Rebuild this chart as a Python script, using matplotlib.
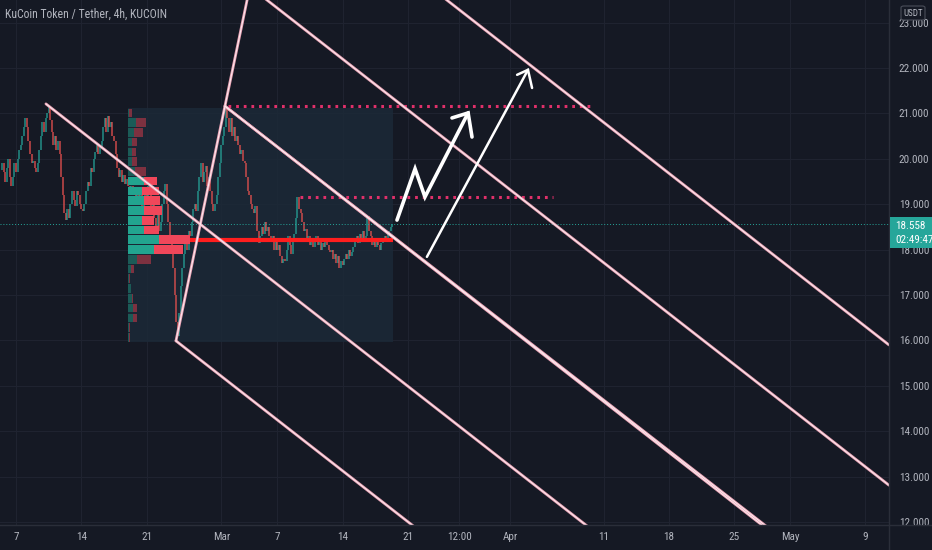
import matplotlib
matplotlib.use("Agg")
import matplotlib.pyplot as plt
import matplotlib.dates as mdates
from matplotlib import font_manager
from matplotlib.patches import Rectangle, FancyBboxPatch
from matplotlib.lines import Line2D
import pandas as pd
import numpy as np

# pick a condensed face if one is installed
_fonts = font_manager.fontManager.ttflist
_cond = None
for want in ['Liberation Sans Narrow', 'Roboto Condensed', 'Open Sans Condensed',
             'Noto Sans Condensed', 'DejaVu Sans', 'Noto Sans', 'Open Sans', 'Roboto']:
    for f in _fonts:
        if f.name == want and str(f.stretch) in ('condensed', 'semi-condensed', '75', '87') \
                and f.style == 'normal':
            _cond = (f.name, str(f.stretch))
            break
    if _cond:
        break
if _cond is None:
    for f in _fonts:
        if f.name == 'Liberation Sans Narrow':
            _cond = (f.name, 'normal')
            break
if _cond:
    plt.rcParams['font.family'] = [_cond[0], 'DejaVu Sans']
    plt.rcParams['font.stretch'] = _cond[1]
    FS_AX, FS_TITLE, FS_SMALL = 8.0, 8.5, 6.5
else:
    plt.rcParams['font.family'] = ['Roboto', 'DejaVu Sans']
    FS_AX, FS_TITLE, FS_SMALL = 7.0, 7.5, 6.0

# ---------------- data ----------------
title = "KuCoin Token / Tether, 4h, KUCOIN"
last_candle = "2022-03-19 08:00"
first_open = 19.75
closes = [
    19.9, 19.7, 19.5, 19.8, 20.0, 19.6, 19.4, 19.6, 19.9, 19.7,
    20.0, 20.2, 20.3, 20.5,
    20.7, 20.9, 20.7, 20.4,
    20.1, 19.9, 19.95,
    19.8, 19.7, 19.9,
    20.2, 20.5, 20.8, 20.6, 20.9, 21.0,
    21.15, 20.85,
    20.6, 20.3, 20.5, 20.2, 20.4, 20.1,
    19.6, 19.2,
    18.8, 18.65, 18.9,
    18.7, 19.0, 19.3, 19.1, 18.95, 19.3, 19.2, 19.0, 18.9,
    18.85, 19.0,
    19.3, 19.5, 19.4, 19.8, 19.7, 20.0, 20.15,
    20.3, 20.1, 20.25, 20.4,
    20.7, 20.9, 20.6, 20.95, 20.7, 20.8, 20.5, 20.4,
    20.1, 19.8, 19.6, 19.75,
    19.5, 19.65, 19.45, 19.55, 19.4,
    19.3, 19.4, 19.2, 19.35, 19.1, 19.25, 19.0, 19.2, 18.9, 19.1, 19.3, 19.15,
    19.4, 19.2, 18.9, 19.1, 18.7, 18.5, 18.8, 18.4, 18.6, 19.0, 19.3, 19.45,
    19.0, 18.6, 18.2, 17.9, 17.6,
    17.0, 16.4, 16.1,
    16.6, 17.2, 17.6, 17.9, 18.2, 18.0, 18.4, 18.3,
    18.6, 18.9, 19.0, 18.85,
    19.3, 19.6, 19.9, 19.5, 19.7, 19.85, 19.4, 19.6, 19.3,
    19.0, 18.85, 19.0,
    19.2, 19.6, 19.9, 20.3, 20.5, 20.7,
    21.1, 20.9,
    20.6, 20.9, 20.5, 20.7, 20.4, 20.5,
    20.3, 20.1, 20.2, 19.95, 19.9,
    19.6, 19.3, 19.2,
    19.0, 18.9, 18.8, 18.95,
    18.4, 18.15, 18.3,
    18.5, 18.35, 18.6, 18.4, 18.5, 18.3,
    18.2, 18.3, 18.0, 18.2, 18.0, 18.1,
    17.85, 17.7, 17.8, 17.75,
    18.0, 18.3, 18.1, 17.9, 18.2, 18.35,
    18.7, 19.15, 18.9, 18.8,
    18.6, 18.4, 18.45,
    18.2, 18.3, 18.1, 18.25, 18.05, 18.2, 18.3, 18.1, 18.2, 18.0, 18.15, 18.05, 18.2, 18.1, 18.0,
    17.95, 18.0, 17.8, 17.9, 17.7, 17.85, 17.6, 17.75, 17.65, 17.8,
    17.9, 17.8, 18.0, 17.85, 17.95, 18.05,
    18.2, 18.3, 18.15, 18.35, 18.25, 18.4, 18.2, 18.3, 18.75, 18.4,
    18.3, 18.1, 18.2, 18.05, 18.25, 18.1, 18.0, 18.15, 18.2,
    18.3, 18.2, 18.35, 18.4, 18.5, 18.558,
]
last_price = 18.558
countdown = "02:49:47"

# volume profile (rows bottom -> top)
vp_start = "2022-02-19 00:00"
vp_end = "2022-03-19 10:00"
vp_low, vp_high = 15.96, 21.12
up_vol = [1.5, 1.5, 5, 5, 4, 3, 1.5, 3, 9, 26, 31, 16, 14, 16, 16, 14, 16, 7, 4, 4, 4, 6, 8, 1]
down_vol = [0.5, 0.5, 4, 4, 1.5, 0.5, 0.5, 3, 14, 29, 31, 15, 12, 18, 16, 17, 13, 11, 5, 4, 5, 9, 10, 3]
va_rows = (9, 16)
poc_row = 10
profile_width_frac = 0.235

# channel lines
chan_slope = -0.1603          # price per day
chan_anchor = [("2022-02-24 03:30", 15.99), ("2022-02-10 05:00", 21.21), ("2022-03-01 09:30", 21.16)]
chan_extra = [("2022-05-11 13:40", 12.81), ("2022-05-11 13:40", 15.90)]
chan_b2_slope = -0.1595
handle = [("2022-02-24 03:30", 15.99), ("2022-03-01 09:30", 21.16)]

dotted_levels = [("2022-03-01 17:00", "2022-04-09 18:00", 21.16),
                 ("2022-03-09 10:30", "2022-04-05 13:30", 19.16)]

zigzag = [("2022-03-19 20:00", 18.65), ("2022-03-21 18:30", 19.78),
          ("2022-03-22 20:00", 19.16), ("2022-03-27 11:00", 21.01)]
zigzag_head = [("2022-03-25 17:30", 20.90), ("2022-03-27 11:00", 21.01), ("2022-03-27 21:00", 20.48)]
arrow2 = [("2022-03-23 01:00", 17.84), ("2022-04-02 21:00", 21.96)]
arrow2_head = [("2022-04-01 17:00", 21.85), ("2022-04-02 21:00", 21.96), ("2022-04-03 07:30", 21.56)]

x_ticks = ["2022-02-07", "2022-02-14", "2022-02-21", "2022-03-01", "2022-03-07", "2022-03-14",
           "2022-03-21", "2022-03-26 12:00", "2022-04-01", "2022-04-11", "2022-04-18",
           "2022-04-25", "2022-05-01", "2022-05-09"]
x_labels = ["7", "14", "21", "Mar", "7", "14", "21", "12:00", "Apr", "11", "18", "25", "May", "9"]
y_ticks = list(range(12, 24))

x_range = ("2022-02-05 06:50", "2022-05-11 13:40")
y_range = (11.934, 23.498)

# ---------------- style ----------------
BG = '#151924'
GRID = '#1f2330'
TXT = '#b2b5be'
UP, DN = '#26a69a', '#ef5350'


def T(s):
    return mdates.date2num(pd.Timestamp(s))


W, H = 932, 550
fig = plt.figure(figsize=(W / 100, H / 100), dpi=100)
fig.patch.set_facecolor(BG)
ax = fig.add_axes([0, 25 / H, 889 / W, 525 / H])
ax.set_facecolor(BG)
x0, x1 = T(x_range[0]), T(x_range[1])
ax.set_xlim(x0, x1)
ax.set_ylim(*y_range)

for s in ['top', 'left', 'bottom']:
    ax.spines[s].set_visible(False)
ax.spines['right'].set_color('#2a2e39')

ax.set_xticks([T(t) for t in x_ticks])
ax.set_xticklabels(x_labels)
ax.yaxis.tick_right()
ax.set_yticks(y_ticks)
ax.set_yticklabels([f"{v:.3f}" for v in y_ticks])
ax.tick_params(axis='both', length=0, colors=TXT, labelsize=FS_AX)
ax.tick_params(axis='x', pad=5)
ax.tick_params(axis='y', pad=7)
ax.grid(True, color=GRID, lw=0.8)
ax.set_axisbelow(True)

# volume profile background box
vx0, vx1 = T(vp_start), T(vp_end)
ax.add_patch(Rectangle((vx0, vp_low), vx1 - vx0, vp_high - vp_low,
                       facecolor='#1c2938', edgecolor='none', alpha=0.85, zorder=1))

# candles
times = pd.date_range(end=last_candle, periods=len(closes), freq='4h')
tnum = mdates.date2num(times)
opens = [first_open] + closes[:-1]
lo = np.minimum(opens, closes)
hi = np.maximum(opens, closes)
cols = [UP if c >= o else DN for o, c in zip(opens, closes)]
ax.vlines(tnum, lo, hi, colors=cols, lw=1.15, alpha=0.8, zorder=2)

# volume profile bars
nrows = len(up_vol)
row_h = (vp_high - vp_low) / nrows
maxv = max(u + d for u, d in zip(up_vol, down_vol))
full_w = (vx1 - vx0) * profile_width_frac
for i, (u, d) in enumerate(zip(up_vol, down_vol)):
    inside = va_rows[0] <= i <= va_rows[1]
    gc = '#22a48f' if inside else '#1b5b57'
    rc = '#f0475a' if inside else '#7d3140'
    yb = vp_low + i * row_h + row_h * 0.06
    hh = row_h * 0.88
    wu = full_w * u / maxv
    wd = full_w * d / maxv
    ax.add_patch(Rectangle((vx0, yb), wu, hh, facecolor=gc, edgecolor='none', zorder=4))
    ax.add_patch(Rectangle((vx0 + wu, yb), wd, hh, facecolor=rc, edgecolor='none', zorder=4))

# POC line
poc_y = vp_low + (poc_row + 0.5) * row_h
poc_x0 = vx0 + full_w * (up_vol[poc_row] + down_vol[poc_row]) / maxv
ax.plot([poc_x0, vx1], [poc_y, poc_y], color='#ff1e1e', lw=3.0, zorder=5, solid_capstyle='butt')


# channel lines
def pline(xs, ys):
    ax.plot(xs, ys, color='#e9a2b4', lw=2.0, zorder=6, solid_capstyle='round')
    ax.plot(xs, ys, color='#fdecf1', lw=0.7, zorder=6.1, solid_capstyle='round')


for d, p in chan_anchor:
    xa = T(d)
    pline([xa, x1], [p, p + chan_slope * (x1 - xa)])
d, p = chan_anchor[2]
xa = T(d)
pline([xa, x1], [p, p + chan_b2_slope * (x1 - xa)])
for d, p in chan_extra:
    xa = T(d)
    pline([x0, xa], [p + chan_slope * (x0 - xa), p])

(hd0, hp0), (hd1, hp1) = handle
hx0, hx1 = T(hd0), T(hd1)
hs = (hp1 - hp0) / (hx1 - hx0)
xe = hx0 + (y_range[1] + 0.5 - hp0) / hs
pline([hx0, xe], [hp0, y_range[1] + 0.5])

# dotted levels
for a, b, lvl in dotted_levels:
    ax.plot([T(a), T(b)], [lvl, lvl], color='#e0306a', lw=2.2, ls=(0, (0.9, 1.6)), zorder=5)

# current price line
ax.axhline(last_price, color=UP, lw=0.7, ls=(0, (1, 2)), zorder=3)


# arrows
def wline(pts, lw):
    ax.plot([T(d) for d, _ in pts], [p for _, p in pts], color='white', lw=lw, zorder=7,
            solid_capstyle='round', solid_joinstyle='miter')


wline(zigzag, 2.6)
wline(zigzag_head, 2.6)
wline(arrow2, 1.8)
wline(arrow2_head, 1.8)

# title
fig.text(5 / W, 1 - 14 / H, title, color=TXT, fontsize=FS_TITLE, va='center', ha='left')

# bottom separator & clip cover for axis labels below plot
fig.add_artist(Rectangle((889 / W, 0), 1, 25 / H, transform=fig.transFigure,
                         facecolor=BG, edgecolor='none', zorder=5))
fig.add_artist(Line2D([0, 1], [25 / H, 25 / H], transform=fig.transFigure,
                      color='#2a2e39', lw=1.0, zorder=6))
fig.add_artist(Line2D([889 / W, 889 / W], [0, 1], transform=fig.transFigure,
                      color='#2a2e39', lw=1.0, zorder=6))

# price label box
fig.add_artist(Rectangle((890 / W, 1 - 248 / H), 42 / W, 31 / H, transform=fig.transFigure,
                         facecolor='#26a69a', edgecolor='none', zorder=7))
fig.text(895 / W, 1 - 226 / H, f"{last_price:.3f}", color='white', fontsize=FS_AX,
         va='center', ha='left', zorder=8)
fig.text(895 / W, 1 - 240 / H, countdown, color='white', fontsize=FS_AX,
         va='center', ha='left', zorder=8)

# USDT box
fig.add_artist(FancyBboxPatch((901 / W, 1 - 20 / H), 24 / W, 14 / H, transform=fig.transFigure,
                              boxstyle='round,pad=0,rounding_size=0.003',
                              facecolor=BG, edgecolor='#4a4e59', lw=0.8, zorder=7))
fig.text(913 / W, 1 - 13 / H, "USDT", color=TXT, fontsize=FS_SMALL, va='center', ha='center', zorder=8)

fig.savefig("out.png", dpi=100, facecolor=BG)
